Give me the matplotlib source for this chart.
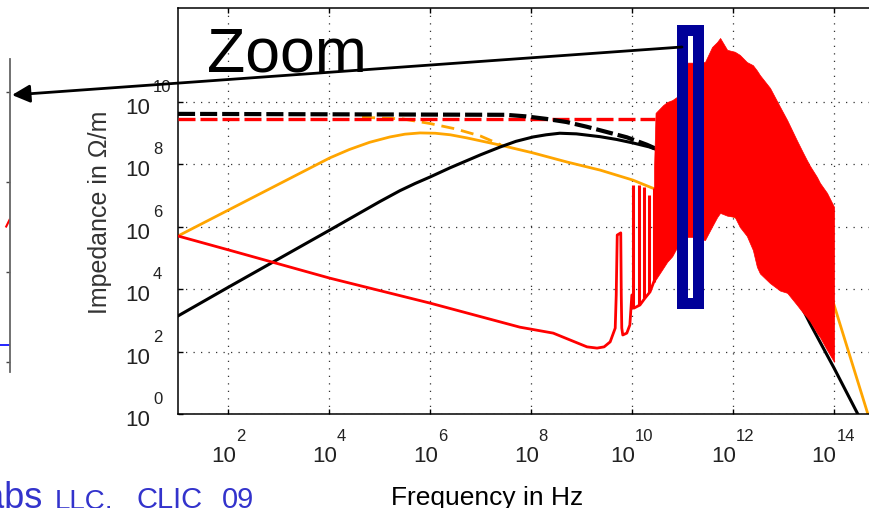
import numpy as np
import matplotlib
matplotlib.use("Agg")
import matplotlib.pyplot as plt
import matplotlib.patches as mpatches
from matplotlib.ticker import NullLocator

# all curve values are log10(frequency in Hz) / log10(impedance in Ohm/m)
black_lf = [1.0, 2.01, 4.01, 5.0, 5.4, 5.7, 6.0, 6.39, 7.0, 7.39, 7.7, 8.04, 8.3,
            8.57, 8.9, 9.37, 9.7, 10.02, 10.35, 10.62, 11.5, 12.5, 13.0, 13.53,
            14.01, 14.48, 14.8]
black_lz = [3.14, 4.07, 5.89, 6.80, 7.15, 7.38, 7.59, 7.88, 8.30, 8.55, 8.73, 8.87,
            8.94, 8.99, 8.97, 8.88, 8.79, 8.68, 8.55, 8.39, 7.6, 6.0, 4.6, 2.91,
            1.47, 0.0, -0.96]

black_dash_lf = [1.0, 7.5, 7.9, 8.3, 8.7, 9.1, 9.5, 9.9, 10.3, 10.62]
black_dash_lz = [9.61, 9.58, 9.53, 9.45, 9.35, 9.2, 9.03, 8.86, 8.62, 8.39]

red_dash_lf = [1.0, 10.45]
red_dash_lz = [9.45, 9.45]

orange_lf = [1.0, 4.01, 4.4, 4.8, 5.2, 5.5, 5.8, 6.1, 6.4, 6.73, 7.39, 8.04, 8.71,
             9.37, 10.02, 10.40, 11.5, 12.5, 13.5, 13.85, 14.01, 14.68, 14.85]
orange_lz = [5.70, 8.20, 8.47, 8.70, 8.87, 8.96, 9.0, 8.99, 8.94, 8.84, 8.61, 8.36,
             8.07, 7.81, 7.49, 7.24, 6.7, 6.0, 5.0, 4.4, 3.49, 0.0, -0.9]

orange_dash_lf = [4.65, 5.45, 6.0, 6.5, 7.0, 7.4]
orange_dash_lz = [9.5, 9.45, 9.3, 9.13, 8.9, 8.62]

red_lf = [1.0, 2.01, 4.01, 6.0, 7.78, 8.44, 9.11, 9.31, 9.45, 9.57, 9.67, 9.69,
          9.71, 9.78, 9.79, 9.80, 9.82, 9.90, 9.96, 10.0, 10.04, 10.16, 10.26,
          10.36, 10.44]
red_lz = [5.70, 5.25, 4.35, 3.55, 2.78, 2.59, 2.15, 2.11, 2.15, 2.31, 2.75, 3.81,
          5.73, 5.80, 3.81, 2.75, 2.53, 2.59, 2.85, 3.81, 3.39, 3.49, 3.71,
          3.91, 4.25]

# narrow resonance spikes just above 10 GHz
spike_lf = [10.03, 10.14, 10.24, 10.34, 10.43]
spike_lo = [3.39, 3.49, 3.71, 3.91, 4.23]
spike_hi = [7.33, 7.33, 7.27, 7.01, 7.24]

# dense trapped-mode region, drawn as its envelope
band_lf = [10.44, 10.47, 10.62, 10.70, 10.80, 10.89, 11.10, 11.20, 11.45, 11.59,
           11.69, 11.75, 11.89, 12.04, 12.14, 12.28, 12.40, 12.48, 12.54, 12.74,
           12.94, 13.08, 13.27, 13.40, 13.47, 13.53, 13.67, 13.73, 13.87, 14.01]
band_hi = [7.88, 9.64, 9.89, 9.99, 10.05, 10.15, 11.25, 11.25, 11.27, 11.75,
           11.91, 12.04, 11.66, 11.6, 11.5, 11.27, 11.17, 11.0, 10.85, 10.44,
           9.83, 9.41, 8.77, 8.35, 8.13, 7.95, 7.59, 7.4, 7.08, 6.63]
band_lo = [4.25, 4.30, 4.67, 4.87, 5.05, 5.32, 5.67, 5.67, 5.57, 6.0,
           6.3, 6.44, 6.35, 6.31, 5.99, 5.7, 5.25, 4.71, 4.5, 4.19,
           3.95, 3.88, 3.5, 3.23, 3.1, 2.98, 2.6, 2.46, 2.05, 1.67]

xtick_exps = [2, 4, 6, 8, 10, 12, 14]
ytick_exps = [0, 2, 4, 6, 8, 10]

# fragment of the neighbouring (zoomed) plot at the left edge
left_ticks = [1, 10, 100, 1000]
left_blue_x = [0.0, 1.0]
left_blue_y = [1.55, 1.55]
left_red_x = [0.97, 1.0]
left_red_y = [32.0, 38.0]


def p(v):
    return 10.0 ** np.asarray(v, dtype=float)


W, H = 869, 508
PT = 0.72  # points per pixel at dpi 100
FONT = "Liberation Sans"

fig = plt.figure(figsize=(W / 100, H / 100), dpi=100)

ax = fig.add_axes([178 / W, 1 - 414 / H, 706 / W, 406 / H])
ax.set_xscale("log")
ax.set_yscale("log")
ax.set_xlim(1e1, 1e15)
ax.set_ylim(1e0, 1e13)
ax.set_xticks(p(xtick_exps))
ax.set_yticks(p(ytick_exps))
ax.xaxis.set_minor_locator(NullLocator())
ax.yaxis.set_minor_locator(NullLocator())
ax.set_xticklabels([])
ax.set_yticklabels([])
ax.tick_params(direction="in", length=5 * PT, width=1, top=True, right=True)
for s in ax.spines.values():
    s.set_linewidth(1.1)
ax.set_axisbelow(True)
ax.grid(True, color="#333333", linestyle=(0, (1, 5)), linewidth=0.9)

ax.plot(p(orange_dash_lf), p(orange_dash_lz), color="#FFA500", lw=2,
        dashes=(4.7, 2.5), zorder=2)
ax.plot(p(orange_lf), p(orange_lz), color="#FFA500", lw=2, zorder=2)
ax.plot(p(black_lf), p(black_lz), color="black", lw=2.2, zorder=2)
ax.plot(p(red_dash_lf), p(red_dash_lz), color="red", lw=2.4, dashes=(5.1, 1.5), zorder=3)
ax.plot(p(black_dash_lf), p(black_dash_lz), color="black", lw=3, dashes=(4.1, 1.2), zorder=3)
ax.plot(p(red_lf), p(red_lz), color="red", lw=2, zorder=4)
ax.vlines(p(spike_lf), p(spike_lo), p(spike_hi), color="red", lw=2.2, zorder=4)
ax.fill_between(p(band_lf), p(band_lo), p(band_hi), color="red", lw=0.5, zorder=4)

# blue "zoom" window
rect = mpatches.Rectangle((10 ** 11.004, 10 ** 3.57), 10 ** 11.321 - 10 ** 11.004,
                          10 ** 12.28 - 10 ** 3.57, fill=False, edgecolor="#000099",
                          lw=11 * PT, joinstyle="miter", zorder=6, clip_on=False)
ax.add_patch(rect)

# matlab style tick labels: "10" with a raised exponent
w10, wdig = 24.7, 9.3
for e in xtick_exps:
    tot = w10 + wdig * len(str(e))
    dx = (-tot / 2 + w10) * PT
    ax.annotate("10", xy=(10.0 ** e, 0), xycoords=ax.get_xaxis_transform(),
                xytext=(dx, -48 * PT), textcoords="offset points", ha="right",
                va="baseline", fontsize=16, family=FONT, color="#222222")
    ax.annotate(str(e), xy=(10.0 ** e, 0), xycoords=ax.get_xaxis_transform(),
                xytext=(dx, -27 * PT), textcoords="offset points", ha="left",
                va="baseline", fontsize=12, family=FONT, color="#222222")
for e in ytick_exps:
    ax.annotate("10", xy=(0, 10.0 ** e), xycoords=ax.get_yaxis_transform(),
                xytext=(-28 * PT, -12 * PT), textcoords="offset points", ha="right",
                va="baseline", fontsize=16, family=FONT, color="#222222")
    ax.annotate(str(e), xy=(0, 10.0 ** e), xycoords=ax.get_yaxis_transform(),
                xytext=(-25 * PT, 10 * PT), textcoords="offset points", ha="left",
                va="baseline", fontsize=12, family=FONT, color="#222222")

fig.text(100 / W, 1 - 212 / H, "Impedance in \u03a9/m", rotation=90, ha="center",
         va="center", fontsize=18, family=FONT, color="#333333")
fig.text(487 / W, 1 - 505 / H, "Frequency in Hz", ha="center", va="baseline",
         fontsize=19, family=FONT, color="black")

# neighbouring plot fragment
ax0 = fig.add_axes([-100 / W, 1 - 372 / H, 109.5 / W, 313 / H])
ax0.set_yscale("log")
ax0.set_xlim(0, 1)
ax0.set_ylim(10 ** (-10 / 90), 10 ** (303 / 90))
ax0.set_yticks(left_ticks)
ax0.yaxis.set_minor_locator(NullLocator())
ax0.set_yticklabels([])
ax0.set_xticks([])
ax0.yaxis.tick_right()
ax0.tick_params(direction="in", length=4 * PT, width=1, colors="#444444")
for k, s in ax0.spines.items():
    s.set_visible(k == "right")
ax0.spines["right"].set_color("#666666")
ax0.spines["right"].set_linewidth(1.3)
ax0.patch.set_alpha(0)
ax0.plot(left_blue_x, left_blue_y, color="blue", lw=1.2)
ax0.plot(left_red_x, left_red_y, color="red", lw=1.5)

# annotation overlay
fig.text(207 / W, 1 - 72 / H, "Zoom", fontsize=45, family=FONT, color="black",
         va="baseline", ha="left")
arrow = mpatches.FancyArrowPatch((682 / W, 1 - 47 / H), (12 / W, 1 - 95 / H),
                                 transform=fig.transFigure,
                                 arrowstyle="-|>,head_length=0.9,head_width=0.45",
                                 mutation_scale=12, lw=2, color="black",
                                 shrinkA=0, shrinkB=0, zorder=10)
fig.add_artist(arrow)

# slide footer, cut by the bottom edge as in the original
blue = "#3333CC"
base = 1 - 508 / H
fig.text(42 / W, base, "Labs", ha="right", va="baseline", fontsize=26,
         family=FONT, color=blue)
fig.text(55 / W, base, "LLC,", ha="left", va="baseline", fontsize=20,
         family=FONT, color=blue)
fig.text(137 / W, base, "CLIC", ha="left", va="baseline", fontsize=21,
         family=FONT, color=blue)
fig.text(222 / W, base, "09", ha="left", va="baseline", fontsize=21,
         family=FONT, color=blue)

fig.savefig("out.png", dpi=100)
